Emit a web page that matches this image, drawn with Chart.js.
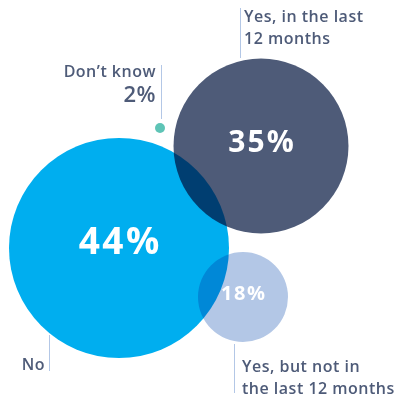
<!DOCTYPE html>
<html>
<head>
<meta charset="utf-8">
<title>Bubbles</title>
<script src="https://cdn.jsdelivr.net/npm/chart.js@4/dist/chart.umd.min.js"></script>
<style>
  html, body { margin: 0; padding: 0; background: #fff; }
  #wrap { width: 401px; height: 401px; }
</style>
</head>
<body>
<div id="wrap"><canvas id="bubbles" width="401" height="401"></canvas></div>
<script>
// answers and their share
const categories = ['No', 'Yes, in the last 12 months', 'Yes, but not in the last 12 months', "Don\u2019t know"];
const shares = [44, 35, 18, 2];
// where each bubble sits on the (hidden) 0-400 grid
const xPos = [119, 261, 243, 160];
const yPos = [248, 146, 297, 128];

const colors = ['#00aeef', '#4e5b78', '#b3c7e6', '#5ec4b6'];
const ink = '#4e5b78';
const leader = '#b3c7e6';
const font = '"Open Sans"';

// bubble radius grows with the share
const radiusFor = v => v * 2.5;

const points = shares.map((v, i) => ({ x: xPos[i], y: yPos[i], r: radiusFor(v), v: v }));

// chart.js pads the chart area by the biggest bubble, so keep the grid in step
const pad = radiusFor(Math.max(...shares));

// blend overlapping bubbles like the original
const blendPlugin = {
  id: 'blend',
  beforeDatasetsDraw(chart) {
    chart.ctx.save();
    chart.ctx.globalCompositeOperation = 'multiply';
  },
  afterDatasetsDraw(chart) {
    chart.ctx.restore();
  }
};

const labelPlugin = {
  id: 'labels',
  afterDraw(chart) {
    const ctx = chart.ctx;
    const els = chart.getDatasetMeta(0).data;
    ctx.save();

    // values inside the big bubbles
    const inside = [37, 30, 20];
    const spacing = [2.5, 2, 1.5];
    ctx.fillStyle = '#fff';
    ctx.textAlign = 'center';
    ctx.textBaseline = 'middle';
    for (let i = 0; i < 3; i++) {
      ctx.font = 'bold ' + inside[i] + 'px ' + font;
      ctx.letterSpacing = spacing[i] + 'px';
      const dy = i === 0 ? -5 : -3;
      ctx.fillText(shares[i] + '%', els[i].x + spacing[i] / 2, els[i].y + dy);
    }

    // leader lines
    ctx.strokeStyle = leader;
    ctx.lineWidth = 1;
    const line = (x, y1, y2) => {
      ctx.beginPath();
      ctx.moveTo(Math.round(x) + 0.5, y1);
      ctx.lineTo(Math.round(x) + 0.5, y2);
      ctx.stroke();
    };
    line(els[1].x - 21, 8, 58);
    line(els[3].x + 1, 65, 119);
    line(els[0].x - 70, 335, 371);
    line(els[2].x - 9, 344, 393);

    ctx.fillStyle = ink;
    ctx.textBaseline = 'alphabetic';
    ctx.letterSpacing = '0.5px';
    ctx.font = '600 16px ' + font;
    ctx.textAlign = 'left';
    ctx.fillText('Yes, in the last', 244, 22);
    ctx.fillText('12 months', 244, 44);
    ctx.fillText('Yes, but not in', 242, 372);
    ctx.fillText('the last 12 months', 242, 394);

    ctx.textAlign = 'right';
    ctx.fillText('No', 45, 370);
    ctx.fillText('Don\u2019t know', 156, 77);
    ctx.font = '600 22px ' + font;
    ctx.fillText(shares[3] + '%', 156, 102);

    ctx.restore();
  }
};

new Chart(document.getElementById('bubbles'), {
  type: 'bubble',
  data: {
    labels: categories,
    datasets: [{
      data: points,
      backgroundColor: colors,
      borderWidth: 0,
      hoverRadius: 0,
      clip: false
    }]
  },
  options: {
    responsive: false,
    animation: false,
    events: [],
    layout: { padding: 0 },
    plugins: {
      legend: { display: false },
      tooltip: { enabled: false }
    },
    scales: {
      x: { type: 'linear', min: pad, max: 401 - pad, display: false },
      y: { type: 'linear', min: pad, max: 401 - pad, reverse: true, display: false }
    }
  },
  plugins: [blendPlugin, labelPlugin]
});
</script>
</body>
</html>
